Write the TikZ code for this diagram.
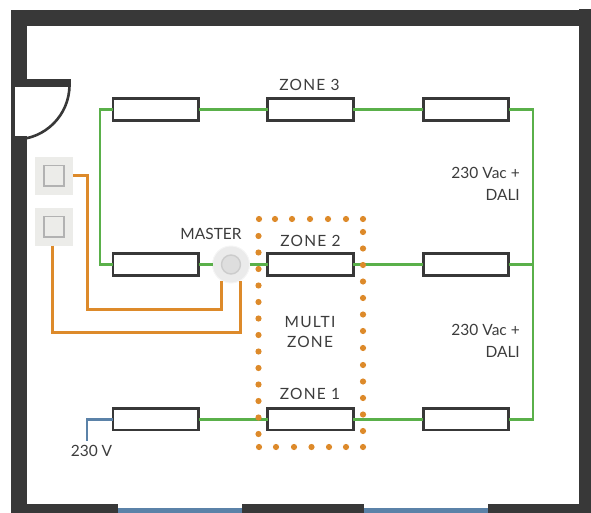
\documentclass[tikz,border=0pt]{standalone}
\usepackage{fontspec}
\setmainfont{Lato}
\definecolor{wallc}{HTML}{383838}
\definecolor{greenw}{HTML}{5AB04A}
\definecolor{orangew}{HTML}{DD8A2A}
\definecolor{bluew}{HTML}{5B82A8}
\definecolor{textc}{HTML}{3C3C3C}
\definecolor{swfill}{HTML}{ECECE9}
\tikzset{
  lamp/.style={draw=wallc,fill=white,line width=2.7pt,minimum width=85.6pt,minimum height=21.5pt,inner sep=0pt,outer sep=0pt,rectangle},
  lbl/.style={text=textc,font=\fontsize{15.5}{21.8}\selectfont,inner sep=0pt,align=center},
  zlbl/.style={lbl,font=\fontsize{15.5}{20}\selectfont\addfontfeature{LetterSpace=8}},
  lblr/.style={lbl,align=right,anchor=east},
  gw/.style={draw=greenw,line width=2.4pt},
  ow/.style={draw=orangew,line width=2.7pt},
  bw/.style={draw=bluew,line width=2.6pt},
  swouter/.style={rectangle,fill=swfill,draw=none,minimum size=38pt,inner sep=0pt,outer sep=0pt},
  swinner/.style={rectangle,fill=swfill,draw=black!30,line width=1.8pt,minimum size=20.5pt,inner sep=0pt},
  dot/.style={circle,fill=orangew,draw=none,minimum size=6.2pt,inner sep=0pt}
}
\begin{document}
\begin{tikzpicture}[x=1pt,y=-1pt]
\useasboundingbox (0,0) rectangle (591,513);
% walls
\fill[wallc] (11,10) rectangle (579,26);
\fill[wallc] (579,9) rectangle (591,513);
\fill[wallc] (11,10) rectangle (27,79);
\fill[wallc] (11,79) rectangle (15,136);
\fill[wallc] (11,136) rectangle (27,513);
\fill[wallc] (11,79) rectangle (71,87);
\fill[wallc] (27,504) rectangle (118,513);
\fill[wallc] (242,504) rectangle (364,513);
\fill[wallc] (488,504) rectangle (579,513);
\fill[bluew] (118,508) rectangle (242,513);
\fill[bluew] (364,508) rectangle (488,513);
% door
\draw[wallc,line width=2.6pt] (69.5,85) arc[start angle=0,end angle=90,radius=54.5];
% lamps
\node[lamp] (l11) at (155.7,109.5) {};
\node[lamp] (l12) at (310.5,109.5) {};
\node[lamp] (l13) at (466,109.5) {};
\node[lamp] (l21) at (155.7,264.5) {};
\node[lamp] (l22) at (310.5,264.5) {};
\node[lamp] (l23) at (466,264.5) {};
\node[lamp] (l31) at (155.7,419.3) {};
\node[lamp] (l32) at (310.5,419.3) {};
\node[lamp] (l33) at (466,419.3) {};
% helper coordinates
\coordinate (gl) at (100,264.5);
\coordinate (gr1) at (533,109.5);
\coordinate (gr2) at (533,264.5);
\coordinate (gr3) at (533,419.3);
\coordinate (o1) at (87.7,309.5);
\coordinate (o2) at (52.3,332.2);
\coordinate (bl) at (87,441);
% master and switches
\node[circle,fill=black!8,draw=black!4,line width=1pt,minimum size=37pt,inner sep=0pt,outer sep=0pt] (master) at (231,264.5) {};
\node[circle,fill=black!13,draw=black!20,line width=1.4pt,minimum size=19pt,inner sep=0pt] (masterb) at (231,264.5) {};
\node[swouter] (sw1) at (53.9,175.8) {};
\node[swinner] (sw1b) at (53.9,175.8) {};
\node[swouter] (sw2) at (53.9,226.7) {};
\node[swinner] (sw2b) at (53.9,226.7) {};
% wires
\draw[gw] (l11.east) -- (l12.west);
\draw[gw] (l12.east) -- (l13.west);
\draw[gw] (l13.east) -- (gr1) -- (gr2) -- (gr3) -- (l33.east);
\draw[gw] (l23.east) -- (gr2);
\draw[gw] (l22.east) -- (l23.west);
\draw[gw] (l32.east) -- (l33.west);
\draw[gw] (l31.east) -- (l32.west);
\draw[gw] (l21.west) -- (gl) |- (l11.west);
\draw[gw] (l21.east) -- (master.west);
\draw[gw] (master.east) -- (l22.west);
\draw[ow] (sw1.east) -| (o1) -| (master.240);
\draw[ow] (sw2.south -| o2) -- (o2) -| (master.300);
\draw[bw] (l31.west) -| (bl);
% dots
\foreach \x [count=\i] in {259,275,292,310,328,346,363} \node[dot] (dt\i) at (\x,219) {};
\foreach \x [count=\i] in {259,276,294,311.5,329,346,363} \node[dot] (db\i) at (\x,447) {};
\foreach \y [count=\i] in {236,252.5,269,285.5,302,318.5,335,351.5,368,384.5,401,417.5,434} \node[dot] (dl\i) at (258.5,\y) {};
\foreach \y [count=\i] in {232,248.5,265,281.5,298,314.5,331,348,365,381.5,398,414.5,431} \node[dot] (dr\i) at (363,\y) {};
% labels
\node[zlbl] (tz3) at (309.5,85) {ZONE 3};
\node[zlbl] (tz2) at (310.5,240.5) {ZONE 2};
\node[zlbl] (tz1) at (310,394) {ZONE 1};
\node[lbl] (tm) at (211,233.5) {MASTER};
\node[zlbl] (tmz) at (310,332.5) {MULTI\\ZONE};
\node[lblr] (tv1) at (520,184) {230 Vac +\\DALI};
\node[lblr] (tv2) at (520,340.5) {230 Vac +\\DALI};
\node[lbl] (t230) at (91.5,451) {230 V};
\end{tikzpicture}
\end{document}
